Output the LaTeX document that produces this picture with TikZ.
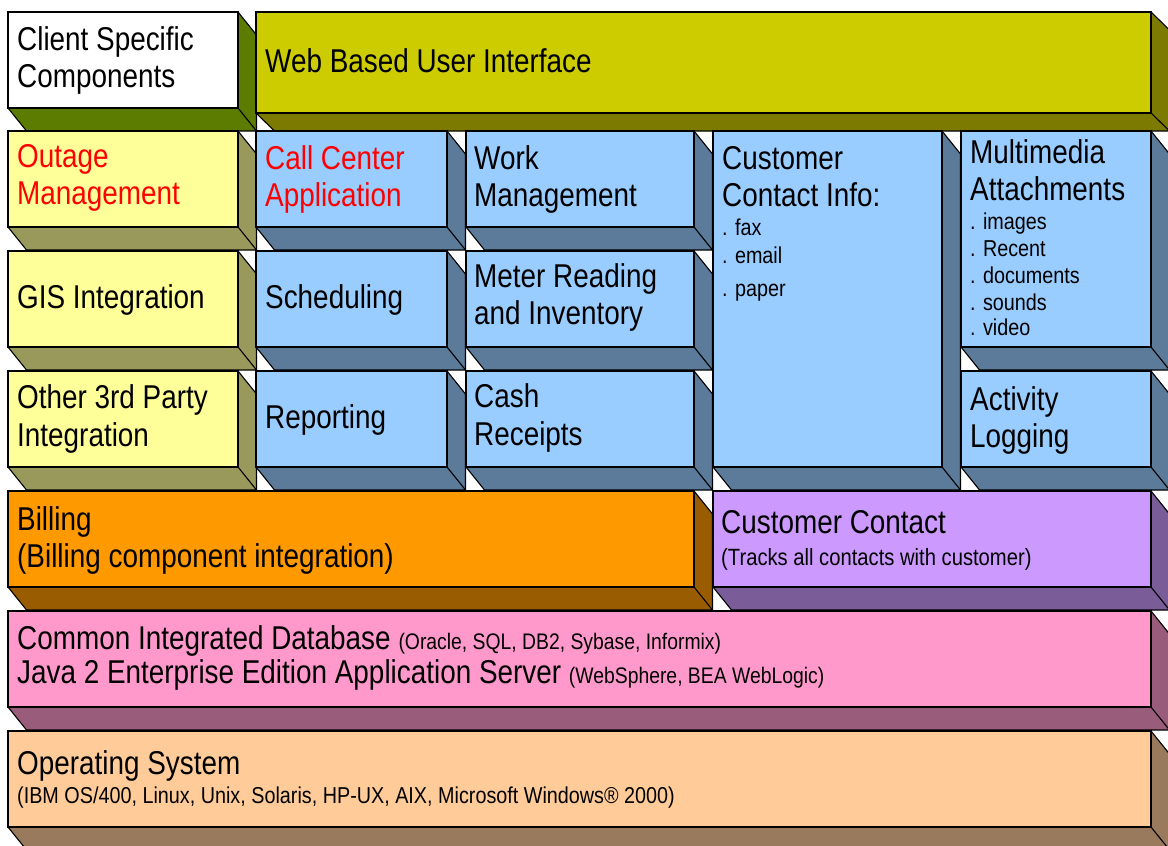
\documentclass[tikz,border=0pt]{standalone}
\usepackage{fontspec}
\setmainfont{Liberation Sans}[FakeStretch=0.86]
\newfontfamily\bigfam{Liberation Sans}[FakeStretch=0.845]
\definecolor{cwhiteS}{HTML}{5B7C00}
\definecolor{cweb}{HTML}{CCCC00}
\definecolor{cwebS}{HTML}{7C7A00}
\definecolor{cyel}{HTML}{FFFF99}
\definecolor{cyelS}{HTML}{99995C}
\definecolor{cblu}{HTML}{99CCFF}
\definecolor{cbluS}{HTML}{5C7A99}
\definecolor{cora}{HTML}{FF9900}
\definecolor{coraS}{HTML}{995C00}
\definecolor{cpur}{HTML}{CC99FF}
\definecolor{cpurS}{HTML}{7A5C99}
\definecolor{cpin}{HTML}{FF99CC}
\definecolor{cpinS}{HTML}{995C7A}
\definecolor{cpea}{HTML}{FFCC99}
\definecolor{cpeaS}{HTML}{997A5C}
\definecolor{cred}{HTML}{FF0000}
\tikzset{
  edge/.style={draw=black, line width=1.1pt, line join=miter},
  big/.style={anchor=base west, inner sep=0pt, font=\bigfam\fontsize{33}{37}\selectfont},
  small/.style={anchor=base west, inner sep=0pt, font=\fontsize{23}{26}\selectfont},
  redtext/.style={text=cred},
}
% slab: x1 y1 x2 y2 front side dx dy
\newcommand\slab[8]{%
  \fill[#6] (#3,#2) -- ++(#7,#8) -- (#3+#7,#4+#8) -- (#1+#7,#4+#8) -- (#1,#4) -- (#3,#4) -- cycle;
  \draw[edge] (#3,#2) -- ++(#7,#8) -- (#3+#7,#4+#8) -- (#1+#7,#4+#8) -- (#1,#4);
  \draw[edge] (#3,#4) -- ++(#7,#8);
  \filldraw[edge, fill=#5] (#1,#2) rectangle (#3,#4);
}
\newcommand\blk[6]{\slab{#1}{#2}{#3}{#4}{#5}{#6}{18.5}{23}}
\begin{document}
\begin{tikzpicture}[x=1pt,y=-1pt]
\useasboundingbox (0,0) rectangle (1168,846);
\clip (0,0) rectangle (1168,846);
\fill[white] (0,0) rectangle (1168,846);
% row 1
\blk{8}{12}{238}{108}{white}{cwhiteS}
\slab{256}{12}{1151}{113}{cweb}{cwebS}{18.5}{18}
% row 2
\blk{8}{131}{238}{227}{cyel}{cyelS}
\blk{256}{131}{447}{227}{cblu}{cbluS}
\blk{466}{131}{694}{227}{cblu}{cbluS}
\blk{713}{131}{942}{467}{cblu}{cbluS}
\blk{961}{131}{1151}{347}{cblu}{cbluS}
% row 3
\blk{8}{251}{238}{347}{cyel}{cyelS}
\blk{256}{251}{447}{347}{cblu}{cbluS}
\blk{466}{251}{694}{347}{cblu}{cbluS}
% row 4
\blk{8}{371}{238}{467}{cyel}{cyelS}
\blk{256}{371}{447}{467}{cblu}{cbluS}
\blk{466}{371}{694}{467}{cblu}{cbluS}
\blk{961}{371}{1151}{467}{cblu}{cbluS}
% row 5
\blk{8}{491}{694}{587}{cora}{coraS}
\blk{713}{491}{1151}{587}{cpur}{cpurS}
% row 6, 7
\blk{8}{611}{1151}{707}{cpin}{cpinS}
\blk{8}{731}{1151}{827}{cpea}{cpeaS}

% texts
\node[big] (cs1) at (17,50) {Client Specific};
\node[big] (cs2) at (17,87) {Components};
\node[big] (web) at (265,72) {Web Based User Interface};

\node[big,redtext] (om1) at (17,167) {Outage};
\node[big,redtext] (om2) at (17,204) {Management};
\node[big,redtext] (cc1) at (265,169) {Call Center};
\node[big,redtext] (cc2) at (265,206) {Application};
\node[big] (wm1) at (474,169) {Work};
\node[big] (wm2) at (474,206) {Management};
\node[big] (ci1) at (722,169) {Customer};
\node[big] (ci2) at (722,206) {Contact Info:};
\node[small] (ci3) at (722,235) {. fax};
\node[small] (ci4) at (722,263) {. email};
\node[small] (ci5) at (722,296) {. paper};
\node[big] (ma1) at (970,163) {Multimedia};
\node[big] (ma2) at (970,200) {Attachments};
\node[small] (ma3) at (970,229) {. images};
\node[small] (ma4) at (970,256) {. Recent};
\node[small] (ma5) at (970,283) {. documents};
\node[small] (ma6) at (970,310) {. sounds};
\node[small] (ma7) at (970,335) {. video};

\node[big] (gis) at (17,308) {GIS Integration};
\node[big] (sch) at (265,308) {Scheduling};
\node[big] (mr1) at (474,287) {Meter Reading};
\node[big] (mr2) at (474,324) {and Inventory};

\node[big] (ot1) at (17,408) {Other 3rd Party};
\node[big] (ot2) at (17,446) {Integration};
\node[big] (rep) at (265,428) {Reporting};
\node[big] (cr1) at (474,407) {Cash};
\node[big] (cr2) at (474,445) {Receipts};
\node[big] (al1) at (970,410) {Activity};
\node[big] (al2) at (970,447) {Logging};

\node[big] (bi1) at (17,530) {Billing};
\node[big] (bi2) at (17,567) {(Billing component integration)};
\node[big] (cu1) at (721,533) {Customer Contact};
\node[small] (cu2) at (721,565) {\fontsize{23.5}{26}\selectfont(Tracks all contacts with customer)};

\node[big] (db1) at (17,649) {Common Integrated Database {\normalfont\fontsize{22.5}{26}\selectfont(Oracle, SQL, DB2, Sybase, Informix)}};
\node[big] (db2) at (17,683) {Java 2 Enterprise Edition Application Server {\normalfont\fontsize{22.5}{26}\selectfont(WebSphere, BEA WebLogic)}};

\node[big] (os1) at (17,774) {Operating System};
\node[small] (os2) at (17,803) {(IBM OS/400, Linux, Unix, Solaris, HP-UX, AIX, Microsoft Windows® 2000)};
\end{tikzpicture}
\end{document}
